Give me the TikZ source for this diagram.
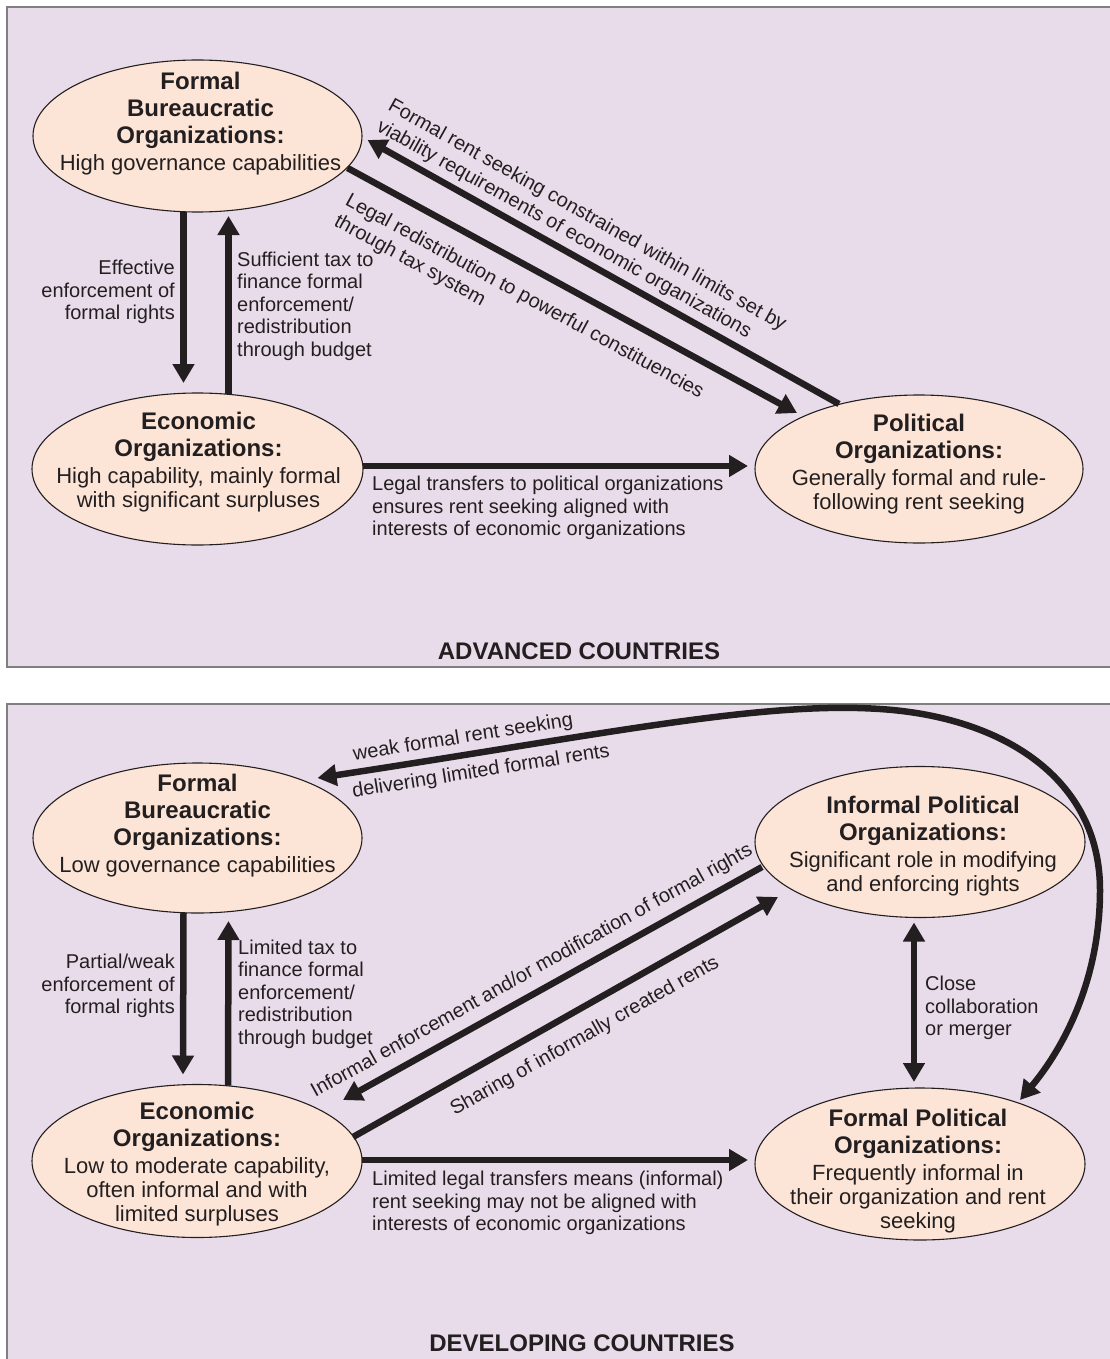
\documentclass[tikz,border=0pt]{standalone}
\usepackage{fontspec}
\setmainfont{Liberation Sans}
\usetikzlibrary{arrows.meta,calc,shapes.geometric}
\definecolor{panelbg}{HTML}{E9DCEA}
\definecolor{ellfill}{HTML}{FCE4D6}
\definecolor{ink}{HTML}{231F20}
\definecolor{framegray}{HTML}{7F7F7F}
\newcommand\orghead[1]{{\fontsize{24}{27}\selectfont\bfseries #1}}
\begin{document}
\begin{tikzpicture}[x=1pt,y=-1pt,
  org/.style={ellipse, draw=ink, line width=1.1pt, fill=ellfill, inner sep=0pt, outer sep=0pt},
  orgtext/.style={align=center, text=ink, font=\fontsize{22}{24}\selectfont, inner sep=0pt},
  lbl/.style={text=ink, font=\fontsize{20}{22.5}\selectfont, inner sep=0pt},
  arr/.style={draw=ink, line width=6.5pt, -{Triangle[length=19pt,width=21pt]}},
  darr/.style={draw=ink, line width=6.5pt, {Triangle[length=19pt,width=21pt]}-{Triangle[length=19pt,width=21pt]}},
  ttl/.style={text=ink, font=\fontsize{24}{26}\selectfont\bfseries, inner sep=0pt}
]
\useasboundingbox (0,0) rectangle (1109,1359);
\fill[white] (0,0) rectangle (1109,1359);
\draw[draw=framegray, fill=panelbg, line width=1.5pt] (7,7) rectangle (1120,667);
\draw[draw=framegray, fill=panelbg, line width=1.5pt] (7,704) rectangle (1120,1370);

% ---------- Advanced countries ----------
\node[org, minimum width=329pt, minimum height=152pt] (fb1) at (197.5,136) {};
\node[org, minimum width=331pt, minimum height=152pt] (ec1) at (197.5,469) {};
\node[org, minimum width=328pt, minimum height=148pt] (po1) at (919,469) {};

\node[orgtext] (fb1t) at ($(fb1)+(3,-12)$) {\orghead{Formal}\\[3pt]\orghead{Bureaucratic}\\[3pt]\orghead{Organizations:}\\[3pt]High governance capabilities};
\node[orgtext] (ec1t) at ($(ec1)+(1,-7)$) {\orghead{Economic}\\[3pt]\orghead{Organizations:}\\[3pt]High capability, mainly formal\\with significant surpluses};
\node[orgtext] (po1t) at ($(po1)+(0,-5)$) {\orghead{Political}\\[3pt]\orghead{Organizations:}\\[3pt]Generally formal and rule-\\following rent seeking};

\draw[arr] ($(fb1.south)+(-14,0)$) -- ($(ec1.north)+(-14,-10)$);
\draw[arr] ($(ec1.north)+(31,1)$) -- ($(fb1.south)+(31,4)$);
\draw[arr] ($(po1)+(-80,-65)$) -- node[lbl, sloped, above, pos=0.577, inner sep=5pt, align=left] (l3) {Formal rent seeking constrained within limits set by\\[1pt]viability requirements of economic organizations} ($(fb1)+(170,4)$);
\draw[arr] ($(fb1)+(150,32)$) -- node[lbl, sloped, below, pos=0.424, inner sep=16pt, align=left] (l4) {Legal redistribution to powerful constituencies\\[1pt]through tax system} ($(po1)+(-122,-56)$);
\draw[arr] ($(ec1.east)+(0,-3)$) -- ($(po1.west)+(-7,-3)$);

\node[lbl, align=right, anchor=east] (l1) at (175,292) {Effective\\enforcement of\\formal rights};
\node[lbl, align=left, anchor=west] (l2) at (237,306) {Sufficient tax to\\finance formal\\enforcement/\\redistribution\\through budget};
\node[lbl, align=left, anchor=west] (l5) at (372,508) {Legal transfers to political organizations\\ensures rent seeking aligned with\\interests of economic organizations};
\node[ttl] (t1) at (579,651) {ADVANCED COUNTRIES};

% ---------- Developing countries ----------
\node[org, minimum width=329pt, minimum height=150pt] (fb2) at (197.5,838) {};
\node[org, minimum width=330pt, minimum height=153pt] (ec2) at (197,1161) {};
\node[org, minimum width=330pt, minimum height=151pt] (ip) at (920,842) {};
\node[org, minimum width=330pt, minimum height=152pt] (fp) at (920,1164) {};

\node[orgtext] (fb2t) at ($(fb2)+(0,-12)$) {\orghead{Formal}\\[3pt]\orghead{Bureaucratic}\\[3pt]\orghead{Organizations:}\\[3pt]Low governance capabilities};
\node[orgtext] (ec2t) at ($(ec2)+(0,3)$) {\orghead{Economic}\\[3pt]\orghead{Organizations:}\\[3pt]Low to moderate capability,\\often informal and with\\limited surpluses};
\node[orgtext] (ipt) at ($(ip)+(3,4)$) {\orghead{Informal Political}\\[3pt]\orghead{Organizations:}\\[3pt]Significant role in modifying\\and enforcing rights};
\node[orgtext] (fpt) at ($(fp)+(-2,7)$) {\orghead{Formal Political}\\[3pt]\orghead{Organizations:}\\[3pt]Frequently informal in\\their organization and rent\\seeking};

\draw[arr] ($(fb2.south)+(-14,0)$) -- ($(ec2.north)+(-14,-10)$);
\draw[arr] ($(ec2.north)+(31,1)$) -- ($(fb2.south)+(31,8)$);
\draw[arr] ($(ip)+(-158,25)$) -- node[lbl, sloped, above, pos=0.525, inner sep=8pt] (l11) {Informal enforcement and/or modification of formal rights} ($(ec2)+(146,-61)$);
\draw[arr] ($(ec2)+(156,-24)$) -- node[lbl, sloped, below, pos=0.515, inner sep=14pt] (l12) {Sharing of informally created rents} ($(ip)+(-142,55)$);
\draw[arr] ($(ec2.east)+(0,-1)$) -- ($(fp.west)+(-7,-4)$);
\draw[darr] ($(ip.south)+(-6,5)$) -- ($(fp.north)+(-6,-6)$);
\draw[darr] ($(fb2)+(120,-60)$) .. controls (600,735) and (760,701) .. (880,709) .. controls (1005,717) and (1100,780) .. (1100,890) .. controls (1100,982) and (1062,1050) .. ($(fp)+(100,-64)$);

\node[lbl, rotate=9] (l13) at (463,738) {weak formal rent seeking};
\node[lbl, rotate=9] (l14) at (481,772) {delivering limited formal rents};
\node[lbl, align=right, anchor=east] (l6) at (175,986) {Partial/weak\\enforcement of\\formal rights};
\node[lbl, align=left, anchor=west] (l7) at (238,994) {Limited tax to\\finance formal\\enforcement/\\redistribution\\through budget};
\node[lbl, align=left, anchor=west] (l8) at (925,1008) {Close\\collaboration\\or merger};
\node[lbl, align=left, anchor=west] (l9) at (372,1203) {Limited legal transfers means (informal)\\rent seeking may not be aligned with\\interests of economic organizations};
\node[ttl] (t2) at (582,1343) {DEVELOPING COUNTRIES};
\end{tikzpicture}
\end{document}
